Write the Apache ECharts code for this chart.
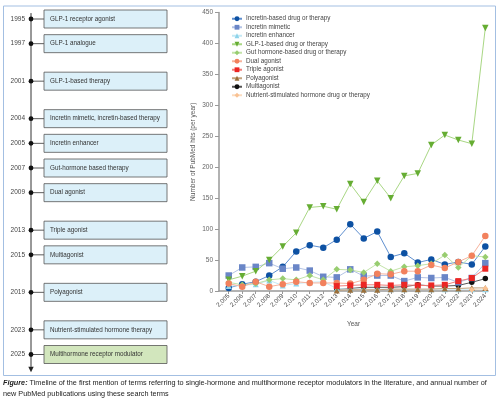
<!DOCTYPE html>
<html><head><meta charset="utf-8">
<script src="https://cdn.jsdelivr.net/npm/echarts@6/dist/echarts.min.js"></script>
<style>html,body{margin:0;padding:0;background:#fff}#c{width:500px;height:399px}</style>
</head><body><div id="c"></div>
<script>
// ---- data ----
const years = [2005,2006,2007,2008,2009,2010,2011,2012,2013,2014,2015,2016,2017,2018,2019,2020,2021,2022,2023,2024];
const incretinBased   = [5,11,15,25,39,64,74,70,83,108,85,96,55,61,46,51,43,47,43,72];
const incretinMimetic = [25,38,39,45,36,38,33,23,22,35,24,25,25,16,22,21,22,14,21,45];
const incretinEnhancer= [8,9,11,17,9,12,14,15,4,3,3,3,3,3,3,3,3,3,3,3];
const glp1Based       = [18,24,32,50,72,94,135,137,132,173,144,178,150,186,190,236,252,244,238,425];
const gutHormone      = [14,10,12,18,20,18,25,18,35,34,30,44,32,39,41,44,58,38,57,55];
const dualAgonist     = [12,7,15,7,11,15,13,13,13,12,18,28,27,32,32,42,37,47,57,89];
const tripleAgonist   = [null,null,null,null,null,null,null,null,8,9,10,10,9,10,9,9,10,16,21,36];
const polyagonist     = [null,null,null,null,null,null,null,null,1,2,2,2,3,3,3,3,4,4,5,5];
const multiagonist    = [null,null,null,null,null,null,null,null,3,4,6,6,6,7,10,8,8,9,14,20];
const nutrientStim    = [null,null,null,null,null,null,null,null,null,null,null,null,null,null,null,null,null,null,2,4];

const timelineYears = [1995,1997,2001,2004,2005,2007,2009,2013,2015,2019,2023,2025];
const timelineTerms = ['GLP-1 receptor agonist','GLP-1 analogue','GLP-1-based therapy','Incretin mimetic, incretin-based therapy','Incretin enhancer','Gut-hormone based therapy','Dual agonist','Triple agonist','Multiagonist','Polyagonist','Nutrient-stimulated hormone therapy','Multihormone receptor modulator'];

// ---- layout helpers ----
const FONT = '"Liberation Sans",Arial,sans-serif';
const slots = [];
let s = 0;
timelineYears.forEach((y,i)=>{ if(i>0){ s += (y - timelineYears[i-1] > 2) ? 1.52 : 1; } slots.push(s); });
const totalSlots = s;
const tlData = timelineYears.map((y,i)=>[0, slots[i], y, timelineTerms[i]]);

function mk(name, data, color, lineColor, symbol, size, z){
  return {
    name, type:'line', data: years.map((y,i)=>[y, data[i]]),
    xAxisIndex:0, yAxisIndex:0, z: z || 2,
    symbol, symbolSize:size, showSymbol:true, connectNulls:false,
    itemStyle:{color}, lineStyle:{color:lineColor, width:1},
    emphasis:{disabled:true}, animation:false
  };
}
const downTri = 'path://M0,0 L10,0 L5,9 Z';

const series = [
  mk('Incretin-based drug or therapy', incretinBased, '#0d51a3', '#5f8fcf', 'circle', 6.5),
  mk('Incretin mimetic', incretinMimetic, '#6a86c7', '#b4c4e6', 'rect', 6.5),
  mk('Incretin enhancer', incretinEnhancer, '#8dd3ea', '#c4e9f5', 'triangle', 6),
  mk('GLP-1-based drug or therapy', glp1Based, '#66ad33', '#a9d784', downTri, 6.5),
  mk('Gut hormone-based drug or therapy', gutHormone, '#98cd70', '#c3e3a9', 'diamond', 6.5),
  mk('Dual agonist', dualAgonist, '#f2815d', '#f7b39d', 'circle', 6.5),
  mk('Triple agonist', tripleAgonist, '#ec2624', '#f07f7c', 'rect', 6),
  mk('Polyagonist', polyagonist, '#9b6f3a', '#c3a27c', 'triangle', 6),
  mk('Multiagonist', multiagonist, '#111111', '#555555', 'circle', 5.5, 1),
  mk('Nutrient-stimulated hormone drug or therapy', nutrientStim, '#f9c293', '#fbdcc0', 'diamond', 6)
];

series.push({
  type:'custom', xAxisIndex:1, yAxisIndex:1, data: tlData, clip:false, silent:true, animation:false,
  renderItem: function(params, api){
    const y = api.coord([0, api.value(1)])[1];
    const yr = api.value(2);
    const term = tlData[params.dataIndex][3];
    const last = params.dataIndex === tlData.length-1;
    const children = [];
    if(params.dataIndex === 0){
      const top = api.coord([0, -0.24])[1];
      const bot = api.coord([0, totalSlots + 0.5])[1];
      children.push({type:'line', shape:{x1:31,y1:top,x2:31,y2:bot}, style:{stroke:'#333',lineWidth:1}});
      children.push({type:'polygon', shape:{points:[[28.3,bot],[33.7,bot],[31,bot+5.5]]}, style:{fill:'#222'}});
    }
    children.push({type:'line', shape:{x1:31,y1:y,x2:44,y2:y}, style:{stroke:'#333',lineWidth:0.8}});
    children.push({type:'circle', shape:{cx:31,cy:y,r:2.4}, style:{fill:'#111'}});
    children.push({type:'rect', shape:{x:44,y:y-9,width:123,height:18}, style:{fill: last ? '#d2e6bd' : '#dcf0f9', stroke:'#555', lineWidth:0.8}});
    children.push({type:'text', style:{x:50, y:y, text:term, fill:'#333', font:'6.3px '+FONT, verticalAlign:'middle', align:'left'}});
    children.push({type:'text', style:{x:25, y:y, text:String(yr), fill:'#444', font:'6.5px '+FONT, verticalAlign:'middle', align:'right'}});
    return {type:'group', children};
  }
});

const chart = echarts.init(document.getElementById('c'), null, {renderer:'canvas'});
chart.setOption({
  animation:false,
  backgroundColor:'#fff',
  textStyle:{fontFamily:FONT},
  grid:[
    {left:219, right:12, top:12.5, bottom:108, containLabel:false},
    {left:0, width:500, top:19, height:335.5}
  ],
  legend:{
    orient:'vertical', left:226, top:9.5, itemWidth:10, itemHeight:6, itemGap:0,
    data: series.slice(0,10).map(s=>s.name),
    textStyle:{fontSize:6.3, color:'#444', lineHeight:8.5, fontFamily:FONT, padding:[0,0,0,-1]},
    selectedMode:false
  },
  xAxis:[
    {type:'value', gridIndex:0, min:2004.28, max:2024.2,
     name:'Year', nameLocation:'middle', nameGap:30, nameTextStyle:{fontSize:6.5, color:'#555'},
     axisLine:{show:true, onZero:false, lineStyle:{color:'#999', width:1.5}},
     axisTick:{show:true, customValues: years, length:3, lineStyle:{color:'#999'}},
     axisLabel:{customValues: years, rotate:45, fontSize:6.3, color:'#444', margin:4},
     splitLine:{show:false}},
    {type:'value', gridIndex:1, min:0, max:500, show:false}
  ],
  yAxis:[
    {type:'value', gridIndex:0, min:0, max:450, interval:50,
     name:'Number of PubMed hits (per year)', nameLocation:'middle', nameGap:22, nameMoveOverlap:false,
     nameTextStyle:{fontSize:6.5, color:'#555'},
     axisLine:{show:true, lineStyle:{color:'#999', width:1.5}},
     axisTick:{show:true, length:4, lineStyle:{color:'#999'}},
     axisLabel:{fontSize:6.5, color:'#666', margin:6},
     splitLine:{show:false}},
    {type:'value', gridIndex:1, min:0, max:totalSlots, inverse:true, show:false}
  ],
  graphic:[
    {type:'rect', shape:{x:3.5, y:6, width:492, height:369.5}, style:{fill:'none', stroke:'#a3bfe2', lineWidth:1}, z:-1},
    {type:'text', left:3, top:377, style:{
      text:'{b|Figure:} Timeline of the first mention of terms referring to single-hormone and multihormone receptor modulators in the literature, and annual number of\nnew PubMed publications using these search terms',
      font:'7.25px '+FONT, fill:'#222', lineHeight:11,
      rich:{b:{fontStyle:'italic', fontWeight:'bold', fontSize:7.25, fontFamily:FONT, fill:'#222'}}
    }}
  ],
  series
});
</script></body></html>
